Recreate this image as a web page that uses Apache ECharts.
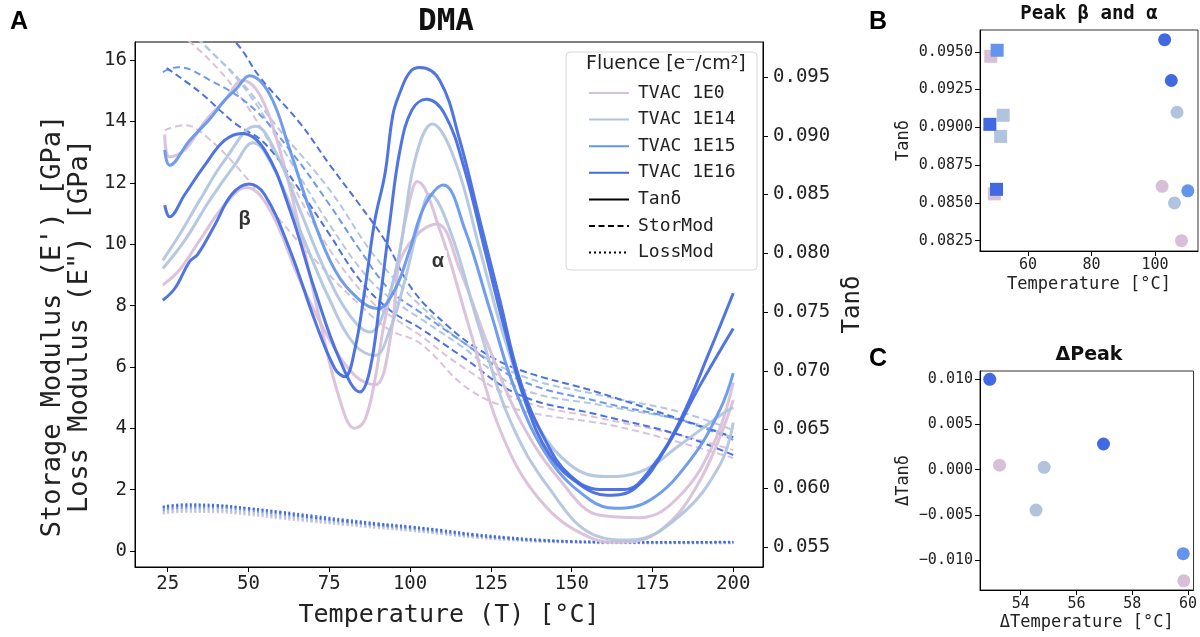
<!DOCTYPE html>
<html><head><meta charset="utf-8">
<script src="https://cdn.jsdelivr.net/npm/echarts@6/dist/echarts.min.js"></script>
<style>html,body{margin:0;padding:0;background:#fff}#c{width:1200px;height:637px}</style>
</head><body><div id="c"></div>
<script>
// ---------- colours per fluence ----------
const C0 = '#D8BFD8', C14 = '#B0C4DE', C15 = '#6495ED', C16 = '#4169E1';
const fluenceNames = ['TVAC 1E0', 'TVAC 1E14', 'TVAC 1E15', 'TVAC 1E16'];

// ---------- Panel A : Tan delta curves [T, tan d] ----------
const tan0a = [[24.1,0.0901],[25.6,0.0882],[30.3,0.0888],[36.5,0.0912],[42.6,0.0930],[48.3,0.0947],[53.5,0.0935],[59.7,0.0888],[65.9,0.0820],[72.1,0.0743],[78.3,0.0675],[82.9,0.0651],[86.0,0.0658],[89.1,0.0692],[92.2,0.0743],[96.9,0.0794],[103.0,0.0818],[108.3,0.0825],[115.4,0.0786],[124.7,0.0718],[134.0,0.0658],[146.4,0.0607],[158.8,0.0577],[171.2,0.0575],[183.6,0.0594],[194.4,0.0641],[200,0.0690]];
const tan0b = [[23.5,0.0773],[28.7,0.0786],[34.9,0.0811],[42.6,0.0841],[49.4,0.0856],[56.6,0.0837],[65.9,0.0777],[75.2,0.0726],[82.9,0.0696],[89.1,0.0688],[93.8,0.0726],[96.9,0.0803],[99.9,0.0845],[102.2,0.0861],[109.2,0.0820],[118.5,0.0735],[127.8,0.0650],[140.2,0.0590],[155.7,0.0558],[165.0,0.0554],[177.4,0.0564],[189.8,0.0607],[200,0.0675]];
const tan14a = [[23.5,0.0794],[28.7,0.0816],[34.9,0.0845],[42.6,0.0879],[52.2,0.0908],[58.1,0.0888],[65.9,0.0837],[73.6,0.0786],[81.4,0.0747],[87.6,0.0733],[92.2,0.0752],[96.9,0.0803],[101.5,0.0879],[106.9,0.0910],[113.9,0.0879],[121.6,0.0803],[129.4,0.0726],[138.7,0.0658],[149.5,0.0620],[160.3,0.0610],[171.2,0.0614],[183.6,0.0637],[195.9,0.0662],[200,0.0669]];
const tan14b = [[23.5,0.0787],[30.3,0.0811],[38.0,0.0845],[45.7,0.0875],[51.4,0.0894],[58.1,0.0871],[65.9,0.0820],[75.2,0.0760],[82.9,0.0722],[89.1,0.0713],[93.8,0.0735],[98.4,0.0777],[103.0,0.0828],[106.1,0.0850],[112.3,0.0820],[121.6,0.0735],[130.9,0.0658],[143.3,0.0599],[157.2,0.0560],[168.1,0.0556],[183.6,0.0577],[195.9,0.0620],[200,0.0656]];
const tan15 = [[24.1,0.0888],[25.6,0.0875],[31.8,0.0896],[38.0,0.0914],[42.6,0.0930],[46.3,0.0940],[50.3,0.0951],[56.6,0.0935],[62.8,0.0888],[69.0,0.0837],[76.7,0.0786],[84.5,0.0760],[90.0,0.0753],[95.3,0.0769],[99.9,0.0803],[104.6,0.0841],[110.3,0.0858],[117.0,0.0820],[124.7,0.0752],[132.5,0.0684],[143.3,0.0624],[155.7,0.0590],[163.4,0.0583],[174.3,0.0590],[186.7,0.0624],[195.9,0.0667],[200,0.0698]];
const tan16a = [[24.1,0.0841],[25.6,0.0831],[30.3,0.0850],[36.5,0.0875],[42.6,0.0896],[48.0,0.0902],[55.0,0.0888],[62.8,0.0837],[70.5,0.0769],[78.3,0.0709],[84.5,0.0682],[87.6,0.0701],[90.7,0.0760],[93.8,0.0828],[96.9,0.0888],[100.6,0.0922],[105.1,0.0931],[110.8,0.0918],[116.9,0.0871],[123.1,0.0803],[129.3,0.0735],[135.5,0.0675],[143.3,0.0628],[152.6,0.0603],[161.0,0.0594],[169.6,0.0600],[178.9,0.0633],[189.8,0.0688],[200,0.0736]];
const tan16b = [[23.5,0.0760],[27.2,0.0770],[31.8,0.0793],[34.3,0.0799],[39.6,0.0824],[44.8,0.0850],[50.1,0.0859],[55.0,0.0850],[62.8,0.0803],[70.5,0.0743],[76.7,0.0702],[79.8,0.0695],[82.9,0.0718],[86.0,0.0769],[89.1,0.0828],[92.2,0.0867],[94.7,0.0918],[96.9,0.0937],[99.9,0.0954],[103.0,0.0958],[109.2,0.0947],[115.4,0.0896],[121.6,0.0828],[127.8,0.0760],[134.0,0.0692],[141.8,0.0641],[149.5,0.0611],[158.8,0.0599],[166.5,0.0599],[174.3,0.0616],[183.6,0.0658],[192.9,0.0718],[200,0.0766]];

// ---------- Panel A : Storage modulus curves [T, GPa] ----------
const stor0a = [[24.1,13.72],[30.3,13.88],[36.5,13.55],[47.3,12.42],[59.7,10.79],[72.1,9.32],[84.5,8.02],[93.8,7.20],[103.0,6.78],[118.5,5.25],[134.0,4.59],[165.0,4.04],[200,3.03]];
const stor0b = [[23.5,17.30],[38.0,16.0],[50.4,14.37],[62.8,12.09],[75.2,9.81],[87.6,8.18],[96.9,7.46],[103.0,7.04],[115.4,6.06],[134.0,4.92],[158.8,4.33],[183.6,3.78],[200,3.29]];
const stor14a = [[23.5,18.12],[36.5,16.49],[47.3,15.35],[59.7,13.72],[75.2,11.76],[87.6,9.81],[96.9,8.67],[103.0,8.02],[115.4,6.88],[134.0,5.73],[158.8,5.08],[183.6,4.53],[200,3.94]];
const stor14b = [[23.5,17.63],[38.0,16.32],[50.4,14.86],[62.8,12.74],[75.2,10.62],[87.6,8.83],[96.9,8.02],[103.0,7.59],[115.4,6.71],[134.0,5.31],[158.8,4.76],[186.7,4.20],[200,3.68]];
const stor15 = [[23.5,15.61],[28.1,15.77],[38.0,15.35],[50.4,14.53],[62.8,13.07],[75.2,11.27],[84.5,9.81],[93.8,8.50],[103.0,7.79],[115.4,6.88],[134.0,5.57],[158.8,4.86],[183.6,4.27],[200,3.62]];
const stor16a = [[23.5,17.99],[34.9,17.63],[46.3,16.55],[53.5,15.45],[65.9,13.95],[75.2,12.58],[84.5,11.27],[92.2,10.13],[100.9,8.50],[111.4,7.36],[121.6,6.55],[134.0,5.90],[158.8,5.15],[200,3.71]];
const stor16b = [[24.7,15.74],[34.9,14.96],[45.7,13.95],[55.0,13.29],[65.9,11.76],[75.2,10.30],[84.5,8.83],[93.8,7.85],[103.0,7.27],[115.4,6.39],[134.0,5.08],[158.8,4.43],[183.6,3.78],[200,3.13]];

// ---------- Panel A : Loss modulus curves (shared temperatures) ----------
const lossT = [23.5,30,40,50,60,70,80,90,100,110,120,130,140,150,160,180,200];
const loss0a = [1.25,1.30,1.30,1.22,1.10,0.98,0.88,0.78,0.68,0.56,0.45,0.37,0.31,0.28,0.27,0.26,0.26];
const loss0b = [1.22,1.28,1.27,1.18,1.06,0.95,0.85,0.75,0.66,0.55,0.44,0.36,0.31,0.28,0.26,0.26,0.26];
const loss14a = [1.30,1.38,1.37,1.28,1.15,1.03,0.92,0.82,0.72,0.60,0.48,0.39,0.33,0.30,0.28,0.27,0.27];
const loss14b = [1.28,1.35,1.33,1.25,1.12,1.00,0.90,0.80,0.70,0.58,0.46,0.38,0.32,0.29,0.27,0.27,0.27];
const loss15 = [1.35,1.42,1.42,1.33,1.20,1.08,0.95,0.84,0.74,0.62,0.50,0.41,0.34,0.30,0.28,0.28,0.28];
const loss16a = [1.45,1.52,1.50,1.40,1.28,1.15,1.02,0.90,0.80,0.68,0.55,0.45,0.37,0.32,0.30,0.29,0.30];
const loss16b = [1.42,1.48,1.47,1.38,1.25,1.10,0.98,0.87,0.78,0.66,0.52,0.42,0.35,0.31,0.29,0.28,0.29];

// ---------- Panel B : peak positions (order 1E0a,1E0b,1E14a,1E14b,1E15,1E16a,1E16b) ----------
const sampleColors = [C0, C0, C14, C14, C15, C16, C16];
const betaT = [48.3, 49.4, 52.2, 51.4, 50.3, 48.0, 50.1];
const betaTan = [0.0947, 0.0856, 0.0908, 0.0894, 0.0951, 0.0902, 0.0859];
const alphaT = [108.3, 102.2, 106.9, 106.1, 110.3, 105.1, 103.0];
const alphaTan = [0.0825, 0.0861, 0.0910, 0.0850, 0.0858, 0.0931, 0.0958];

// ---------- Panel C : delta peak ----------
const dTemp = [59.85, 53.24, 54.84, 54.55, 59.83, 56.97, 52.89];
const dTan = [-0.0123, 0.0005, 0.00026, -0.00447, -0.0093, 0.00284, 0.0100];

// ---------- ticks ----------
const xTicksA = [25, 50, 75, 100, 125, 150, 175, 200];
const yTicksA = [0, 2, 4, 6, 8, 10, 12, 14, 16];
const yTicksTan = [0.055, 0.060, 0.065, 0.070, 0.075, 0.080, 0.085, 0.090, 0.095];
const xTicksB = [60, 80, 100];
const yTicksB = [0.0825, 0.0850, 0.0875, 0.0900, 0.0925, 0.0950];
const xTicksC = [54, 56, 58, 60];
const yTicksC = [-0.010, -0.005, 0.000, 0.005, 0.010];

const MONO = 'DejaVu Sans Mono';
const TXT = '#222';

function axisCommon(ticks, fs, fmt, margin) {
  return {
    type: 'value',
    splitLine: { show: false },
    axisLine: { show: true, onZero: false, lineStyle: { color: '#000', width: 1 } },
    axisTick: { show: true, customValues: ticks, length: 5, lineStyle: { color: '#000' } },
    axisLabel: { customValues: ticks, fontFamily: MONO, fontSize: fs, color: TXT, margin: margin, formatter: fmt }
  };
}

const xAxes = [
  Object.assign(axisCommon(xTicksA, 19, v => String(Math.round(v)), 8), {
    gridIndex: 0, min: 14.9, max: 209.2,
    name: 'Temperature (T) [°C]', nameLocation: 'middle', nameGap: 36,
    nameTextStyle: { fontFamily: MONO, fontSize: 25, color: TXT }
  }),
  Object.assign(axisCommon(xTicksB, 15, v => String(Math.round(v)), 7), {
    gridIndex: 1, min: 44.9, max: 113.5,
    name: 'Temperature [°C]', nameLocation: 'middle', nameGap: 25,
    nameTextStyle: { fontFamily: MONO, fontSize: 17, color: TXT }
  }),
  Object.assign(axisCommon(xTicksC, 15, v => String(Math.round(v)), 7), {
    gridIndex: 2, min: 52.54, max: 60.2,
    name: 'ΔTemperature [°C]', nameLocation: 'middle', nameGap: 24,
    nameTextStyle: { fontFamily: MONO, fontSize: 17, color: TXT }
  })
];

const yAxes = [
  Object.assign(axisCommon(yTicksA, 19, v => String(Math.round(v)), 8), {
    gridIndex: 0, min: -0.52, max: 16.59, position: 'left'
  }),
  Object.assign(axisCommon(yTicksTan, 19, v => v.toFixed(3), 10), {
    gridIndex: 0, min: 0.0533, max: 0.09798, position: 'right',
    name: 'Tanδ', nameLocation: 'middle', nameGap: 78, nameRotate: 90,
    nameTextStyle: { fontFamily: MONO, fontSize: 24, color: TXT }
  }),
  Object.assign(axisCommon(yTicksB, 15, v => v.toFixed(4), 7), {
    gridIndex: 1, min: 0.08182, max: 0.09644,
    name: 'Tanδ', nameLocation: 'middle', nameGap: 68, nameRotate: 90,
    nameTextStyle: { fontFamily: MONO, fontSize: 17, color: TXT }
  }),
  Object.assign(axisCommon(yTicksC, 15, v => (v < -1e-9 ? '−' : '') + Math.abs(v).toFixed(3), 7), {
    gridIndex: 2, min: -0.01332, max: 0.01092,
    name: 'ΔTanδ', nameLocation: 'middle', nameGap: 68, nameRotate: 90,
    nameTextStyle: { fontFamily: MONO, fontSize: 17, color: TXT }
  })
];

const series = [];
// Loss modulus (dotted)
const lossSets = [[loss0a, C0], [loss0b, C0], [loss14a, C14], [loss14b, C14], [loss15, C15], [loss16a, C16], [loss16b, C16]];
lossSets.forEach((s, i) => {
  series.push({
    name: 'loss' + i, type: 'line', xAxisIndex: 0, yAxisIndex: 0, symbol: 'none', smooth: 0.4, silent: true,
    data: lossT.map((t, k) => [t, s[0][k]]),
    lineStyle: { color: s[1], width: 2.2, type: [2, 2.5], opacity: 0.95 }, z: 2
  });
});
// Storage modulus (dashed)
const storSets = [[stor0a, C0], [stor0b, C0], [stor14a, C14], [stor14b, C14], [stor15, C15], [stor16a, C16], [stor16b, C16]];
storSets.forEach((s, i) => {
  series.push({
    name: 'stor' + i, type: 'line', xAxisIndex: 0, yAxisIndex: 0, symbol: 'none', smooth: 0.4, silent: true,
    data: s[0], lineStyle: { color: s[1], width: 2, type: [7, 4], opacity: 0.95 }, z: 2
  });
});
// Tan delta (solid)
const tanSets = [[tan0a, C0], [tan0b, C0], [tan14a, C14], [tan14b, C14], [tan15, C15], [tan16a, C16], [tan16b, C16]];
tanSets.forEach((s, i) => {
  series.push({
    name: 'tan' + i, type: 'line', xAxisIndex: 0, yAxisIndex: 1, symbol: 'none', smooth: 0.4, silent: true,
    data: s[0], lineStyle: { color: s[1], width: 3, opacity: 0.92 }, z: 3
  });
});

// Peak annotations
series.push({
  name: 'annot', type: 'scatter', xAxisIndex: 0, yAxisIndex: 1, symbolSize: 1, silent: true,
  itemStyle: { color: 'rgba(0,0,0,0)' },
  data: [
    { value: [48.8, 0.0829], label: { formatter: 'β' } },
    { value: [108.6, 0.0793], label: { formatter: 'α' } }
  ],
  label: { show: true, position: 'inside', fontFamily: 'Liberation Sans', fontWeight: 'bold', fontSize: 20, color: '#000', backgroundColor: '#fff', padding: [1, 3] },
  z: 6
});

// Legend dummy series
const legendStyles = [
  { name: fluenceNames[0], color: C0, width: 3.5, type: 'solid' },
  { name: fluenceNames[1], color: C14, width: 3.5, type: 'solid' },
  { name: fluenceNames[2], color: C15, width: 3.5, type: 'solid' },
  { name: fluenceNames[3], color: C16, width: 3.5, type: 'solid' },
  { name: 'Tanδ', color: '#000', width: 3.5, type: 'solid' },
  { name: 'StorMod', color: '#000', width: 2.2, type: [6, 3.5] },
  { name: 'LossMod', color: '#000', width: 2, type: [2, 3] }
];
legendStyles.forEach(l => {
  series.push({
    name: l.name, type: 'line', xAxisIndex: 0, yAxisIndex: 0, symbol: 'none', symbolSize: 0, data: [],
    itemStyle: { color: l.color }, lineStyle: { color: l.color, width: l.width, type: l.type }
  });
});

// Panel B / C scatter
function scatterSeries(xi, yi, xs, ys, sym, size) {
  return xs.map((x, i) => ({
    type: 'scatter', xAxisIndex: xi, yAxisIndex: yi, symbol: sym, symbolSize: size, silent: true,
    data: [[x, ys[i]]], itemStyle: { color: sampleColors[i], opacity: 1 }, z: 4
  }));
}
series.push(...scatterSeries(1, 2, betaT, betaTan, 'rect', 13));
series.push(...scatterSeries(1, 2, alphaT, alphaTan, 'circle', 13));
series.push(...scatterSeries(2, 3, dTemp, dTan, 'circle', 13));

const option = {
  animation: false,
  backgroundColor: '#fff',
  grid: [
    { left: 135, top: 42, width: 628, height: 525, show: true, borderColor: '#000', borderWidth: 1, backgroundColor: 'transparent' },
    { left: 980, top: 30, width: 218, height: 221, show: true, borderColor: '#333', borderWidth: 1 },
    { left: 980, top: 371, width: 218, height: 219, show: true, borderColor: '#333', borderWidth: 1 }
  ],
  xAxis: xAxes,
  yAxis: yAxes,
  legend: {
    data: legendStyles.map(l => l.name),
    orient: 'vertical', left: 583, top: 79, itemWidth: 40, itemHeight: 14, itemGap: 8.6,
    selectedMode: false, z: 20,
    itemStyle: { opacity: 0 },
    textStyle: { fontFamily: MONO, fontSize: 18, color: TXT, padding: [0, 0, 0, 4] }
  },
  graphic: [
    { type: 'rect', z: 15, shape: { x: 566, y: 52, width: 191, height: 218, r: 4 }, style: { fill: 'rgba(255,255,255,0.85)', stroke: '#d8d8d8', lineWidth: 1 } },
    { type: 'text', z: 20, x: 586, y: 55, style: { text: 'Fluence [e⁻/cm²]', font: '19px "DejaVu Sans"', fill: TXT } },
    { type: 'text', z: 20, x: 66, y: 326, rotation: Math.PI / 2,
      style: { text: "Storage Modulus (E') [GPa]\nLoss Modulus (E\") [GPa]", font: '27px "DejaVu Sans Mono"', lineHeight: 27, fill: TXT, textAlign: 'center', textVerticalAlign: 'middle' } },
    { type: 'text', z: 20, x: 446, y: 6, style: { text: 'DMA', font: 'bold 31px "DejaVu Sans Mono"', fill: '#111', textAlign: 'center' } },
    { type: 'text', z: 20, x: 10, y: 10, style: { text: 'A', font: 'bold 25px "Liberation Sans"', fill: '#000' } },
    { type: 'text', z: 20, x: 869, y: 10, style: { text: 'B', font: 'bold 25px "Liberation Sans"', fill: '#000' } },
    { type: 'text', z: 20, x: 869, y: 347, style: { text: 'C', font: 'bold 25px "Liberation Sans"', fill: '#000' } },
    { type: 'text', z: 20, x: 1089, y: 5, style: { text: 'Peak β and α', font: 'bold 19px "DejaVu Sans Mono"', fill: '#111', textAlign: 'center' } },
    { type: 'text', z: 20, x: 1089, y: 346, style: { text: 'ΔPeak', font: 'bold 19px "DejaVu Sans"', fill: '#111', textAlign: 'center' } }
  ],
  series: series
};

const chart = echarts.init(document.getElementById('c'));
chart.setOption(option);
</script></body></html>
